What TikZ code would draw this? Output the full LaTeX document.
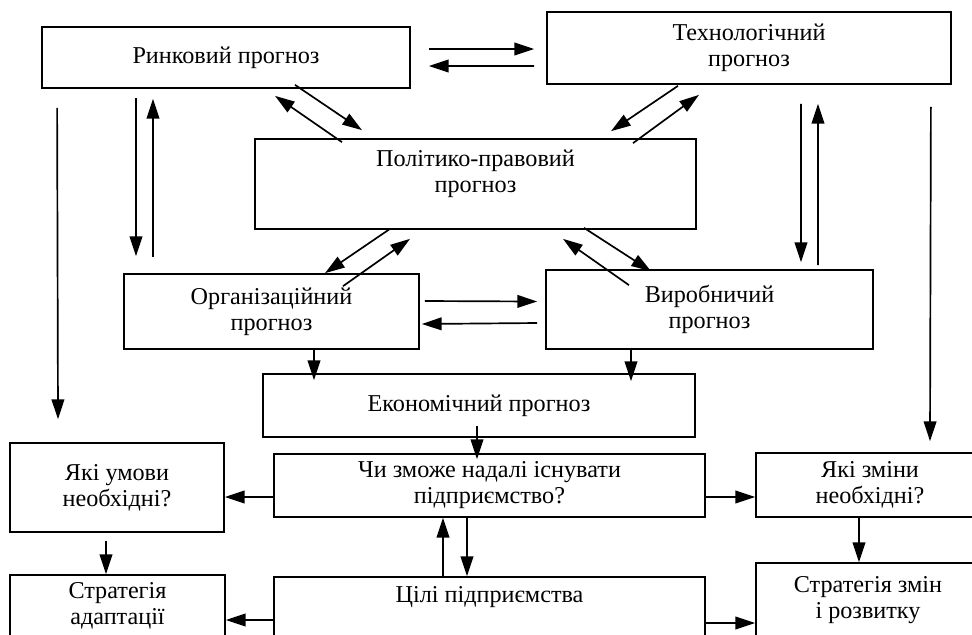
\documentclass[tikz,border=0pt]{standalone}
\usepackage{fontspec}
\setmainfont{Liberation Serif}
\usetikzlibrary{arrows.meta,calc}

\begin{document}
\begin{tikzpicture}[x=0.025cm,y=-0.025cm,line width=1.2pt,
      box/.style={draw,align=center,inner sep=0pt,font=\fontsize{17.2}{18.5}\selectfont},
      >={Triangle[length=14pt,width=9pt]}]
  \useasboundingbox (0,0) rectangle (972,634);
  \clip (0,0) rectangle (972,634);
  % forecasts
  \node[box,minimum width=9.2cm,minimum height=1.525cm] (mkt) at (226,57.5) {Ринковий прогноз};
  \node[box,minimum width=10.1cm,minimum height=1.8cm] (tech) at (749,48) {Технологічний\\прогноз};
  \node[box,minimum width=11.025cm,minimum height=2.25cm] (pol) at (475.5,184) {Політико-правовий\\прогноз\\\mbox{}};
  \node[box,minimum width=7.375cm,minimum height=1.875cm] (org) at (271.5,311.5) {Організаційний\\прогноз};
  \node[box,minimum width=8.175cm,minimum height=1.975cm] (prod) at (709.5,309.5) {Виробничий\\прогноз};
  \node[box,minimum width=10.8cm,minimum height=1.575cm] (econ) at (479,405.5) {Економічний прогноз};
  % questions and strategies
  \node[box,minimum width=10.775cm,minimum height=1.575cm] (exist) at (489.5,485.5) {Чи зможе надалі існувати\\підприємство?};
  \node[box,minimum width=5.35cm,minimum height=2.225cm] (cond) at (117,487.5) {Які умови\\необхідні?};
  \node[box,minimum width=5.7cm,minimum height=1.6cm] (change) at (870,485) {Які зміни\\необхідні?};
  \node[box,minimum width=10.775cm,minimum height=1.5cm] (goals) at (489.5,607) {Цілі підприємства\\\mbox{}};
  \node[box,minimum width=5.375cm,minimum height=1.55cm] (adapt) at (117.5,606) {Стратегія\\адаптації};
  \node[box,minimum width=5.6cm,minimum height=1.85cm] (dev) at (868,600) {Стратегія змін\\і розвитку};
  % links between forecasts
  \draw[->] ($(mkt.east)+(18,-8.5)$) -- ($(tech.west)+(-12,1)$);
  \draw[->] ($(tech.west)+(-12,18)$) -- ($(mkt.east)+(18,8.5)$);
  \draw[->] ($(mkt.south)+(69,-4)$) -- ($(pol.north)+(-113.5,-8)$);
  \draw[->] ($(pol.north)+(-133.5,4)$) -- ($(mkt.south)+(49,7)$);
  \draw[->] ($(tech.south)+(-71,1)$) -- ($(pol.north)+(135.5,-7)$);
  \draw[->] ($(pol.north)+(157.5,5)$) -- ($(tech.south)+(-50,10)$);
  \draw[->] ($(pol.south)+(-85.5,-1)$) -- ($(org.north)+(53.5,0)$);
  \draw[->] ($(org.north)+(71.5,13)$) -- ($(pol.south)+(-65.5,9)$);
  \draw[->] ($(pol.south)+(108.5,-2)$) -- ($(prod.north)+(-58.5,2)$);
  \draw[->] ($(prod.north)+(-80.5,16)$) -- ($(pol.south)+(87.5,9)$);
  \draw[->] ($(mkt.south)+(-90,9)$) -- ($(org.north)+(-135.5,-17)$);
  \draw[->] ($(org.north)+(-118.5,-16)$) -- ($(mkt.south)+(-73,10)$);
  \draw[->] ($(tech.south)+(52,19)$) -- ($(prod.north)+(91.5,-7)$);
  \draw[->] ($(prod.north)+(108.5,-4)$) -- ($(tech.south)+(69,19)$);
  \draw[->] ($(org.east)+(5,-10.5)$) -- ($(prod.west)+(-8,-8)$);
  \draw[->] ($(prod.west)+(-8,13.5)$) -- ($(org.east)+(2,12.5)$);
  \draw[->] ($(org.south)+(42.5,0)$) -- ($(econ.north)+(-165,7)$);
  \draw[->] ($(prod.south)+(-78.5,0)$) -- ($(econ.north)+(152,8)$);
  % long side arrows
  \draw[->] ($(mkt.south west)+(16,19)$) -- ($(cond.north)+(-59,-23)$);
  \draw[->] ($(tech.south east)+(-21,22)$) -- ($(change.north)+(60,-11)$);
  % lower part
  \draw[->] ($(econ.south)+(-2,-12)$) -- ($(exist.north)+(-12.5,6)$);
  \draw[->] ($(exist.west)+(0,11.5)$) -- ($(cond.east)+(0,9.5)$);
  \draw[->] ($(exist.east)+(0,11.5)$) -- ($(change.west)+(0,12)$);
  \draw[->] ($(goals.north)+(-46.5,0)$) -- ($(exist.south)+(-46.5,0)$);
  \draw[->] ($(exist.south)+(-22.5,0)$) -- ($(goals.north)+(-22.5,0)$);
  \draw[->] ($(cond.south)+(-11,8)$) -- ($(adapt.north)+(-11.5,0)$);
  \draw[->] ($(change.south)+(-11,0)$) -- ($(dev.north)+(-9,0)$);
  \draw[->] ($(goals.west)+(0,13)$) -- ($(adapt.east)+(0,14)$);
  \draw[->] ($(goals.east)+(0,16)$) -- ($(dev.west)+(0,23)$);
\end{tikzpicture}
\end{document}
